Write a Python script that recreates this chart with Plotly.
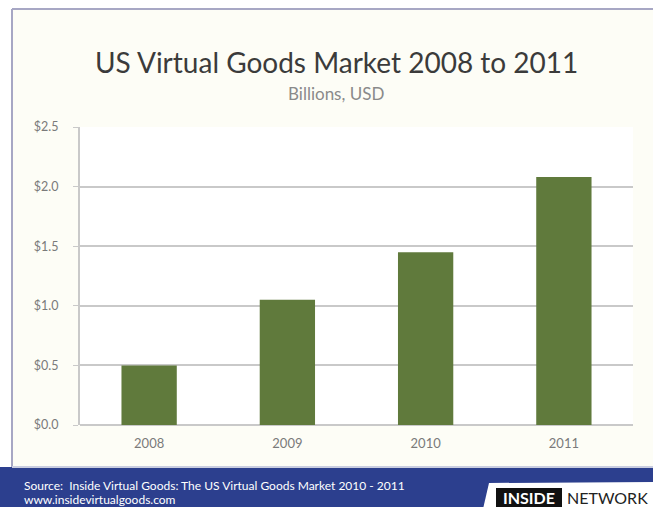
import plotly.graph_objects as go

# Market size by year, billions USD
years = ["2008", "2009", "2010", "2011"]
market_busd = [0.50, 1.05, 1.45, 2.08]
tick_vals = [0.0, 0.5, 1.0, 1.5, 2.0, 2.5]
tick_text = ["$0.0", "$0.5", "$1.0", "$1.5", "$2.0", "$2.5"]

W, H = 653, 507
ML, MR, MT, MB = 80, 20, 127, 82
PW, PH = W - ML - MR, H - MT - MB


def px(x):
    return (x - ML) / PW


def py(y):
    return (H - MB - y) / PH


fig = go.Figure(
    go.Bar(
        x=years,
        y=market_busd,
        width=0.4,
        marker=dict(color="#607a3c", line=dict(width=0)),
        hoverinfo="skip",
    )
)

shapes = [
    # cream frame with lilac border on top and left
    dict(type="rect", xref="paper", yref="paper", x0=px(12), x1=px(W + 2), y0=py(467), y1=py(9),
         fillcolor="#fdfdf6", line=dict(width=0), layer="below"),
    dict(type="line", xref="paper", yref="paper", x0=px(12), x1=px(W), y0=py(9), y1=py(9),
         line=dict(color="#a7a7c4", width=2), layer="below"),
    dict(type="line", xref="paper", yref="paper", x0=px(12), x1=px(12), y0=py(467), y1=py(9),
         line=dict(color="#a7a7c4", width=2), layer="below"),
    # white plot area
    dict(type="rect", xref="paper", yref="paper", x0=0, x1=1, y0=0, y1=1,
         fillcolor="#ffffff", line=dict(width=0), layer="below"),
    # footer band
    dict(type="rect", xref="paper", yref="paper", x0=px(0), x1=px(W + 2), y0=py(H + 2), y1=py(467),
         fillcolor="#2c3f8e", line=dict(width=0), layer="above"),
    dict(type="line", xref="paper", yref="paper", x0=px(12), x1=px(W), y0=py(467), y1=py(467),
         line=dict(color="#c9cde0", width=2), layer="above"),
    # logo tab
    dict(type="path", xref="paper", yref="paper",
         path=f"M {px(483)},{py(H + 2)} L {px(489)},{py(483)} L {px(W + 2)},{py(482)} "
              f"L {px(W + 2)},{py(H + 2)} Z",
         fillcolor="#ffffff", line=dict(width=0), layer="above"),
    dict(type="rect", xref="paper", yref="paper", x0=px(496), x1=px(562), y0=py(H + 2), y1=py(488),
         fillcolor="#111111", line=dict(width=0), layer="above"),
]

annotations = [
    dict(text="US Virtual Goods Market 2008 to 2011", xref="paper", yref="paper",
         x=px(336), y=py(62), showarrow=False, xanchor="center", yanchor="middle",
         font=dict(family="Lato", size=28, color="#3b3b3b")),
    dict(text="Billions, USD", xref="paper", yref="paper",
         x=px(336), y=py(93), showarrow=False, xanchor="center", yanchor="middle",
         font=dict(family="Lato", size=17, color="#8a8a8a")),
    dict(text="Source:  Inside Virtual Goods: The US Virtual Goods Market 2010 - 2011",
         xref="paper", yref="paper", x=px(22), y=py(485), showarrow=False,
         xanchor="left", yanchor="middle",
         font=dict(family="Lato", size=12, color="#ffffff")),
    dict(text="www.insidevirtualgoods.com", xref="paper", yref="paper",
         x=px(22), y=py(499.5), showarrow=False, xanchor="left", yanchor="middle",
         font=dict(family="Lato", size=12, color="#ffffff")),
    dict(text="<b>INSIDE</b>", xref="paper", yref="paper", x=px(529), y=py(497),
         showarrow=False, xanchor="center", yanchor="middle",
         font=dict(family="Lato", size=16, color="#ffffff")),
    dict(text="NETWORK", xref="paper", yref="paper", x=px(565), y=py(497),
         showarrow=False, xanchor="left", yanchor="middle",
         font=dict(family="Lato", size=16, color="#222222")),
]

fig.update_layout(
    width=W,
    height=H,
    margin=dict(l=ML, r=MR, t=MT, b=MB, pad=0),
    paper_bgcolor="#ffffff",
    plot_bgcolor="#ffffff",
    showlegend=False,
    bargap=0.6,
    shapes=shapes,
    annotations=annotations,
    xaxis=dict(
        type="category",
        showgrid=False,
        showline=False,
        ticks="",
        tickfont=dict(family="Lato", size=13, color="#7a7a7a"),
        ticklabelstandoff=9,
    ),
    yaxis=dict(
        range=[0, 2.5],
        tickvals=tick_vals,
        ticktext=tick_text,
        showgrid=True,
        gridcolor="#c9c9c9",
        gridwidth=2,
        zeroline=True,
        zerolinecolor="#c9c9c9",
        zerolinewidth=2,
        showline=True,
        linecolor="#c9c9c9",
        linewidth=2,
        ticks="outside",
        ticklen=5,
        tickwidth=1,
        tickcolor="#c9c9c9",
        tickfont=dict(family="Lato", size=12.5, color="#7a7a7a"),
        ticklabelstandoff=12,
    ),
)

fig.write_html("out.html")
